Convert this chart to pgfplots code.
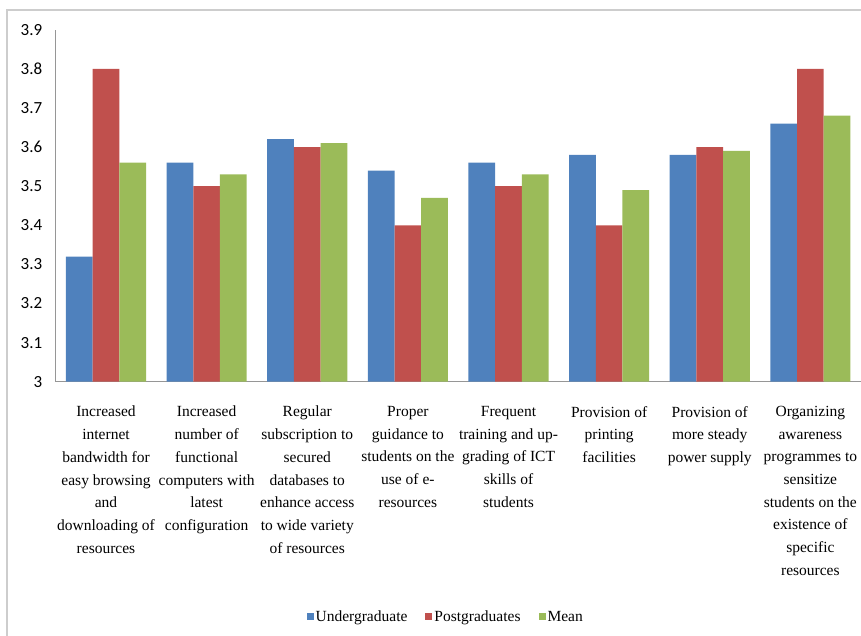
\documentclass[border=0pt]{standalone}
\usepackage{fontspec}
\setmainfont{Liberation Serif}
\newfontfamily\tickfont{Carlito}
\usepackage{pgfplots}
\pgfplotsset{compat=1.18}
\definecolor{ugblue}{RGB}{79,129,189}
\definecolor{pgred}{RGB}{192,80,77}
\definecolor{mgreen}{RGB}{155,187,89}
\definecolor{axgray}{RGB}{150,150,150}
\definecolor{framegray}{RGB}{205,205,205}
\begin{document}
\begin{tikzpicture}[x=1pt,y=1pt]
\begin{axis}[
  at={(0pt,0pt)}, anchor=south west,
  scale only axis, width=805pt, height=352pt,
  ymin=3, ymax=3.9, xmin=-0.5, xmax=7.5,
  axis x line*=bottom, axis y line*=left,
  axis line style={-, axgray, line width=1pt},
  major tick length=0pt,
  ybar=0pt, bar width=26.7pt,
  ytick={3,3.1,3.2,3.3,3.4,3.5,3.6,3.7,3.8,3.9},
  yticklabels={3,3.1,3.2,3.3,3.4,3.5,3.6,3.7,3.8,3.9},
  y tick label style={font=\tickfont\fontsize{17}{20}\selectfont, anchor=east, xshift=-10pt},
  xtick={0,1,2,3,4,5,6,7},
  xticklabels={
    {Increased\\internet\\bandwidth for\\easy browsing\\and\\downloading of\\resources},
    {Increased\\number of\\functional\\computers with\\latest\\configuration},
    {Regular\\subscription to\\secured\\databases to\\enhance access\\to wide variety\\of resources},
    {Proper\\guidance to\\students on the\\use of e-\\resources},
    {Frequent\\training and up-\\grading of ICT\\skills of\\students},
    {Provision of\\printing\\facilities},
    {Provision of\\more steady\\power supply},
    {Organizing\\awareness\\programmes to\\sensitize\\students on the\\existence of\\specific\\resources}},
  x tick label style={font=\fontsize{15.5}{22.7}\selectfont, align=center, anchor=north, yshift=-21pt},
  legend style={at={(0.4845,-0.668)}, anchor=center, draw=none, legend columns=3,
    font=\fontsize{15.5}{18}\selectfont,
    /tikz/every even column/.append style={column sep=16pt}},
  legend image code/.code={\fill[#1] (0pt,-3.5pt) rectangle (7pt,3.5pt);},
]
\addplot[fill=ugblue, draw=none] coordinates {(0,3.32) (1,3.56) (2,3.62) (3,3.54) (4,3.56) (5,3.58) (6,3.58) (7,3.66)};
\addplot[fill=pgred, draw=none] coordinates {(0,3.80) (1,3.50) (2,3.60) (3,3.40) (4,3.50) (5,3.40) (6,3.60) (7,3.80)};
\addplot[fill=mgreen, draw=none] coordinates {(0,3.56) (1,3.53) (2,3.61) (3,3.47) (4,3.53) (5,3.49) (6,3.59) (7,3.68)};
\legend{Undergraduate, Postgraduates, Mean}
\end{axis}
\draw[framegray, line width=1.5pt] (-48.7,371.7) rectangle (830,-280);
\pgfresetboundingbox
\useasboundingbox (-55.7,-254.3) rectangle (805.3,381.7);
\end{tikzpicture}
\end{document}
